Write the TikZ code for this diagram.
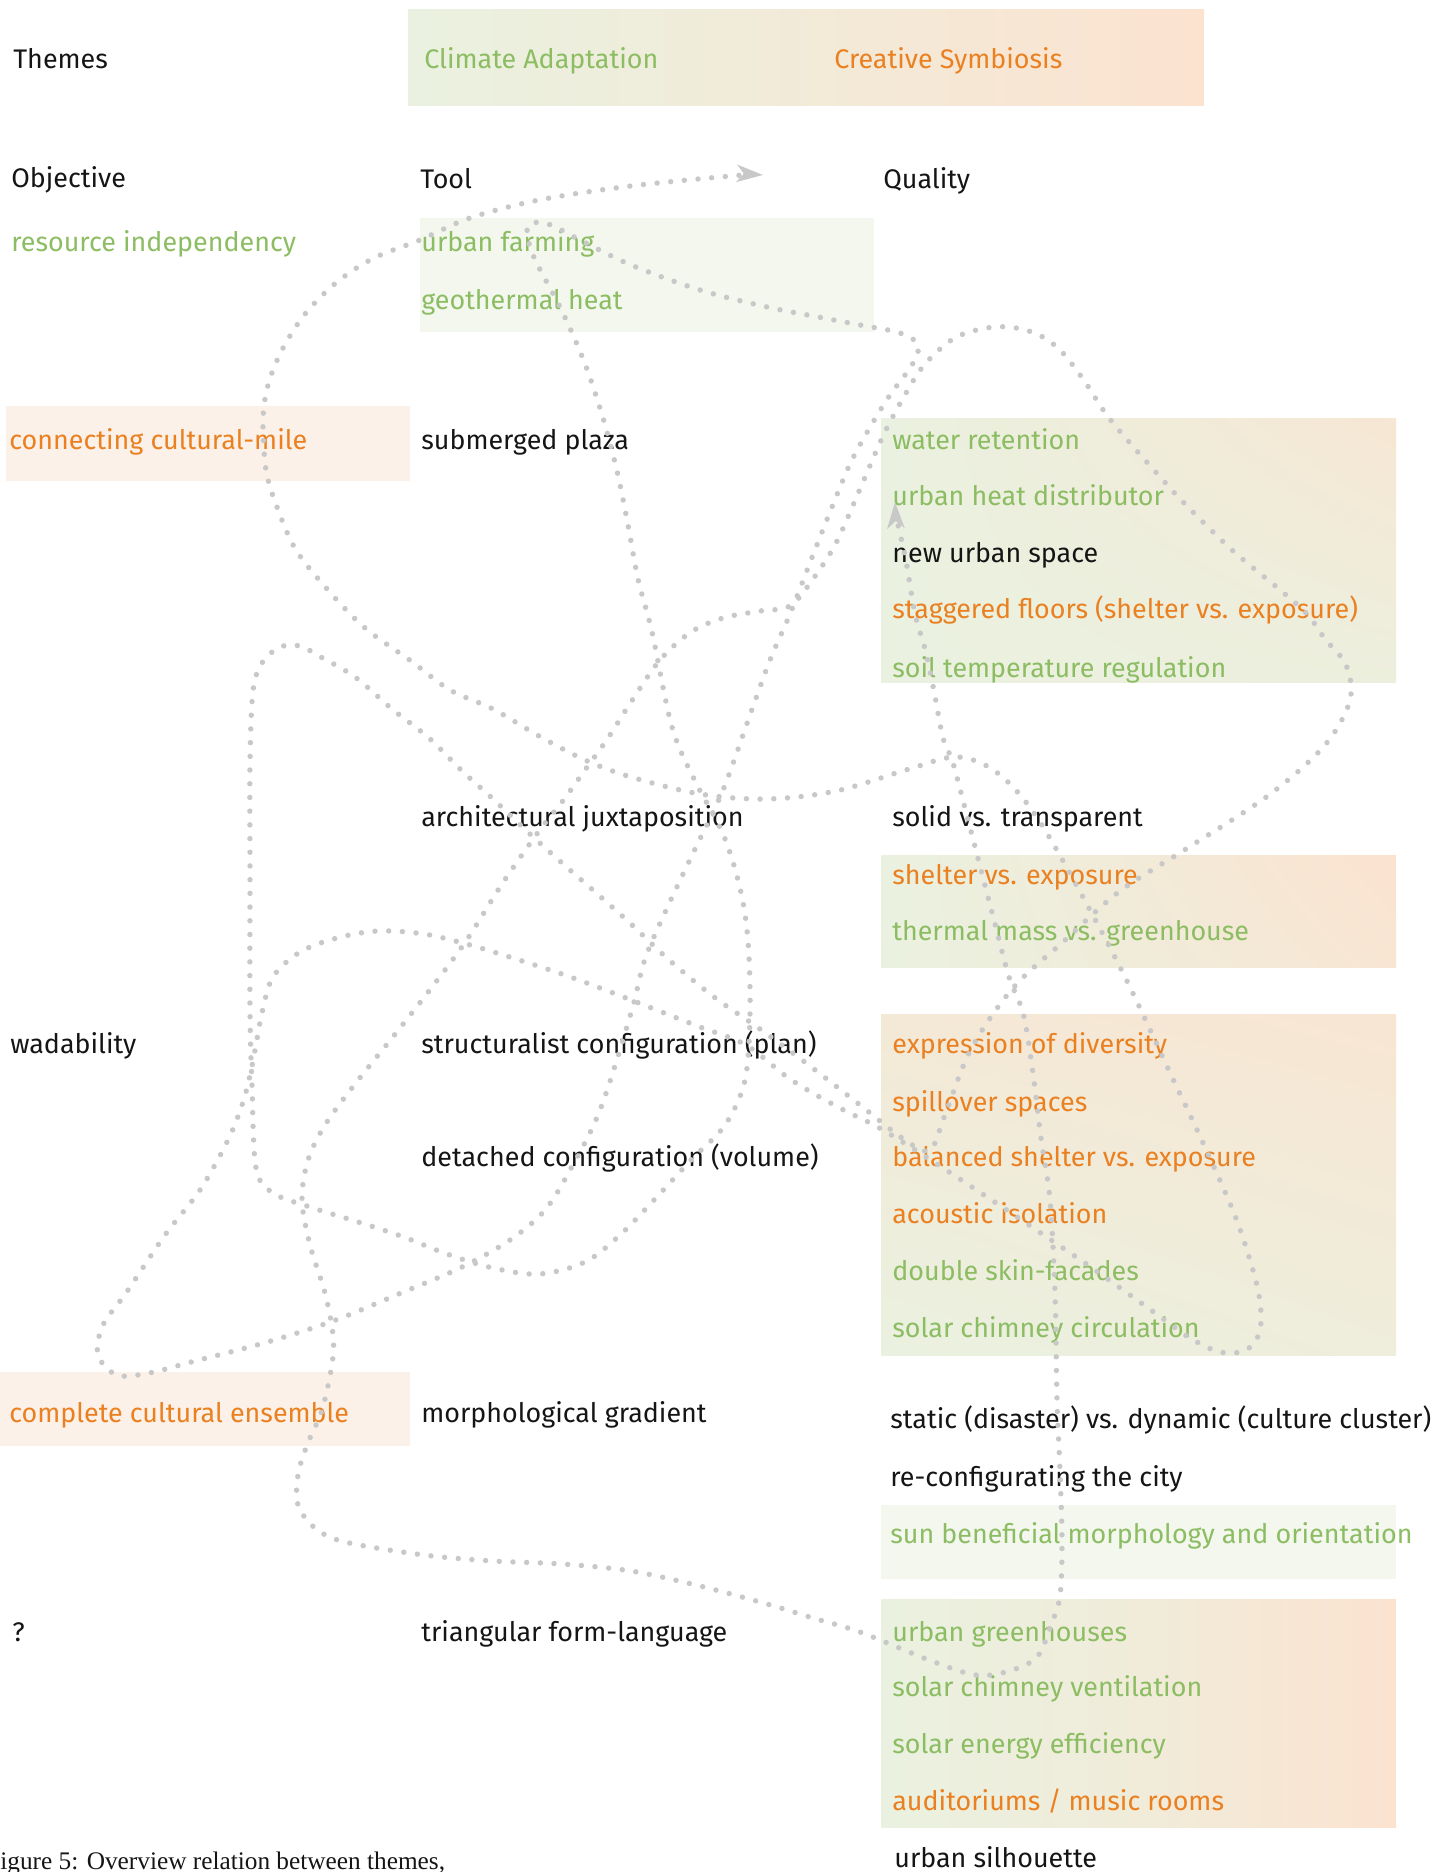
\documentclass[tikz,border=0pt]{standalone}
\usepackage{fontspec}
\setmainfont{Fira Sans}
\newfontfamily\capfont{Liberation Serif}
\usetikzlibrary{arrows.meta,shadings}
\definecolor{ClimGreen}{HTML}{8CBD62}
\definecolor{CreaOrange}{HTML}{EA8020}
\definecolor{InkBlack}{HTML}{151515}
\definecolor{DotGray}{HTML}{C8C8C8}
\definecolor{PaleGreen}{HTML}{F3F7EE}
\definecolor{PaleOrange}{HTML}{FCF1E8}
\definecolor{GradGreen}{HTML}{EAF1E0}
\definecolor{GradPeach}{HTML}{FBE3D0}
\tikzset{
  lbl/.style={anchor=base west, inner sep=0pt, text=InkBlack, font=\fontsize{15.3}{18}\selectfont},
  climlbl/.style={lbl, text=ClimGreen},
  crealbl/.style={lbl, text=CreaOrange},
  scribble/.style={draw=DotGray, line width=3.1pt, line cap=round, dash pattern=on 0pt off 7.8pt},
  headtip/.tip={Stealth[length=5.2mm, width=3.4mm, inset=1.4mm, fill=DotGray, color=DotGray]}
}
\begin{document}
\begin{tikzpicture}[x=0.02cm, y=-0.02cm]
\useasboundingbox (0,0) rectangle (1453,1872);
% background fields
\shade[left color=GradGreen, right color=GradPeach] (408,10) rectangle (1204,106);
\fill[PaleGreen] (420,218) rectangle (874,332);
\fill[PaleOrange] (6,406) rectangle (410,481);
\fill[PaleOrange] (0,1372) rectangle (410,1446);
\shade[upper left=GradGreen, upper right=GradPeach!75!GradGreen, lower left=GradGreen, lower right=GradGreen!85!GradPeach] (881,418) rectangle (1396,682);
\shade[upper left=GradGreen, upper right=GradPeach, lower left=GradGreen, lower right=GradPeach!80!GradGreen] (881,855) rectangle (1396,967);
\shade[upper left=GradPeach!60!GradGreen, upper right=GradPeach!80!GradGreen, lower left=GradGreen, lower right=GradGreen!70!GradPeach] (881,1014) rectangle (1396,1355);
\fill[PaleGreen] (881,1505) rectangle (1396,1579);
\shade[left color=GradGreen, right color=GradPeach, middle color=GradGreen!60!GradPeach] (881,1599) rectangle (1396,1827);

% themes
\node[lbl] (themes) at (13,69) {Themes};
\node[climlbl] (climate) at (424,69) {Climate Adaptation};
\node[crealbl] (creative) at (834,69) {Creative Symbiosis};

% column heads
\node[lbl] (objective) at (11,188) {Objective};
\node[lbl] (tool) at (420,189) {Tool};
\node[lbl] (quality) at (883,189) {Quality};

% objectives
\node[climlbl] (obj1) at (11,252) {resource independency};
\node[crealbl] (obj2) at (9,449) {connecting cultural-mile};
\node[lbl] (obj3) at (10,1053) {wadability};
\node[crealbl] (obj4) at (9,1422) {complete cultural ensemble};
\node[lbl] (obj5) at (12,1641) {?};

% tools
\node[climlbl] (tool1) at (421,252) {urban farming};
\node[climlbl] (tool2) at (421,309) {geothermal heat};
\node[lbl] (tool3) at (421,449) {submerged plaza};
\node[lbl] (tool4) at (421,826) {architectural juxtaposition};
\node[lbl] (tool5) at (421,1053) {structuralist configuration (plan)};
\node[lbl] (tool6) at (421,1166) {detached configuration (volume)};
\node[lbl] (tool7) at (421,1422) {morphological gradient};
\node[lbl] (tool8) at (421,1641) {triangular form-language};

% qualities
\node[climlbl] (qual1) at (892,449) {water retention};
\node[climlbl] (qual2) at (892,505) {urban heat distributor};
\node[lbl] (qual3) at (892,562) {new urban space};
\node[crealbl] (qual4) at (892,618) {staggered floors (shelter vs. exposure)};
\node[climlbl] (qual5) at (892,677) {soil temperature regulation};
\node[lbl] (qual6) at (892,826) {solid vs. transparent};
\node[crealbl] (qual7) at (892,884) {shelter vs. exposure};
\node[climlbl] (qual8) at (892,940) {thermal mass vs. greenhouse};
\node[crealbl] (qual9) at (892,1053) {expression of diversity};
\node[crealbl] (qual10) at (892,1111) {spillover spaces};
\node[crealbl] (qual11) at (892,1166) {balanced shelter vs. exposure};
\node[crealbl] (qual12) at (892,1223) {acoustic isolation};
\node[climlbl] (qual13) at (892,1280) {double skin-facades};
\node[climlbl] (qual14) at (892,1337) {solar chimney circulation};
\node[lbl] (qual15) at (890,1428) {static (disaster) vs. dynamic (culture cluster)};
\node[lbl] (qual16) at (890,1486) {re-configurating the city};
\node[climlbl] (qual17) at (890,1543) {sun beneficial morphology and orientation};
\node[climlbl] (qual18) at (892,1641) {urban greenhouses};
\node[climlbl] (qual19) at (892,1696) {solar chimney ventilation};
\node[climlbl] (qual20) at (892,1753) {solar energy efficiency};
\node[crealbl] (qual21) at (892,1810) {auditoriums / music rooms};
\node[lbl] (qual22) at (894,1867) {urban silhouette};

% caption
\node[lbl, font=\capfont\fontsize{14.4}{17}\selectfont] (caption) at (0,1869) {igure 5: Overview relation between themes,};

% the dotted scribble
\coordinate (tipA) at (763,175);
\coordinate (tipB) at (895,502);
\draw[scribble, headtip-headtip] plot[smooth, tension=0.55] coordinates {
  (tipA) (732,176) (631,186) (539,200) (470,218) (420,240) (374,258) (337,282)
  (305,314) (282,350) (268,385) (263,420) (266,470) (277,507) (296,550) (328,590)
  (365,628) (411,661) (450,690) (493,709) (539,736) (585,760) (631,777) (700,794)
  (767,799) (836,791) (906,770) (953,757) (985,765) (1012,786) (1040,822) (1078,888)
  (1125,977) (1172,1077) (1204,1145) (1237,1221) (1258,1290) (1260,1330) (1246,1350)
  (1220,1352) (1190,1338) (1162,1318) (1092,1268) (1023,1221) (981,1193) (943,1168)
  (883,1130) (836,1106) (790,1079) (746,1045) (700,1027) (654,1009) (608,991)
  (562,974) (516,959) (470,945) (424,934) (378,931) (337,938) (300,952) (273,977)
  (262,1013) (252,1066) (243,1102) (228,1140) (200,1190) (165,1235) (126,1293)
  (103,1325) (98,1355) (117,1375) (149,1373) (195,1361) (264,1343) (333,1321)
  (401,1293) (460,1268) (510,1240) (545,1210) (570,1170) (600,1110) (631,1013)
  (645,959) (668,906) (695,849) (723,790) (750,715) (770,660) (790,614) (813,555)
  (832,507) (850,464) (869,429) (890,395) (912,365) (918,345) (900,333) (860,325)
  (813,316) (767,307) (700,290) (631,265) (580,240) (548,224) (528,226) (533,255)
  (562,311) (585,364) (603,418) (617,471) (628,525) (638,579) (652,632) (672,727)
  (695,781) (723,834) (740,888) (748,941) (750,1013) (745,1080) (725,1125) (691,1160)
  (654,1200) (620,1235) (585,1262) (539,1274) (493,1268) (447,1254) (401,1236)
  (355,1221) (310,1207) (273,1193) (256,1168) (252,1084) (250,1013) (250,870)
  (250,763) (253,691) (262,663) (280,647) (300,646) (319,656) (355,677) (392,709)
  (429,738) (461,770) (493,799) (530,834) (562,863) (594,891) (631,924) (668,959)
  (714,997) (760,1029) (810,1066) (860,1105) (905,1140) (930,1150) (945,1115)
  (971,1049) (1013,988) (1064,941) (1120,891) (1186,849) (1269,795) (1325,745)
  (1350,700) (1346,665) (1325,639) (1307,614) (1279,589) (1232,550) (1185,504)
  (1162,479) (1130,443) (1106,414) (1083,379) (1060,350) (1037,334) (1009,327)
  (981,329) (953,339) (925,364) (906,393) (883,436) (860,489) (836,543) (813,579)
  (790,606) (760,611) (723,618) (691,632) (660,660) (631,702) (608,738) (585,770)
  (562,802) (539,831) (502,884) (466,941) (429,991) (392,1038) (355,1084) (325,1125)
  (308,1160) (302,1200) (310,1245) (325,1293) (333,1335) (332,1364) (322,1410)
  (307,1445) (298,1475) (298,1505) (315,1528) (345,1542) (424,1555) (493,1561)
  (562,1564) (631,1571) (700,1586) (767,1604) (813,1618) (860,1632) (929,1660)
  (976,1675) (1009,1671) (1037,1657) (1051,1625) (1060,1596) (1062,1543) (1060,1471)
  (1057,1400) (1055,1293) (1050,1200) (1041,1138) (1032,1066) (1023,1013) (1009,977)
  (995,924) (981,870) (967,816) (953,763) (943,738) (934,691) (925,649) (915,614)
  (906,561) (897,520) (tipB)};
\end{tikzpicture}
\end{document}
